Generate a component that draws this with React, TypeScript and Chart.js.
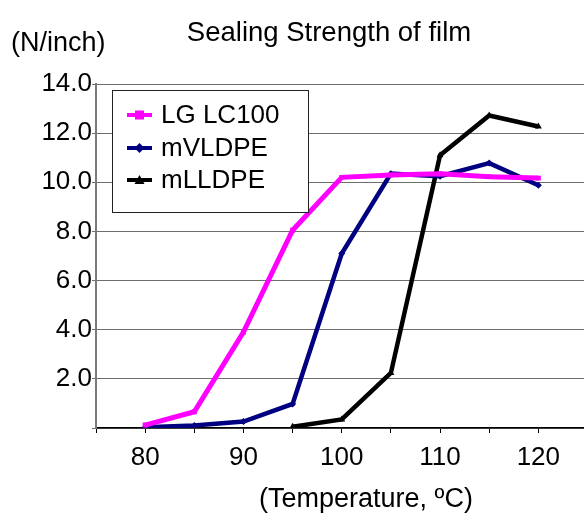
import React, { useEffect, useRef } from 'react';
import { Chart, registerables } from 'chart.js';

Chart.register(...registerables);

const chartTitle = 'Sealing Strength of film';
const yUnitLabel = '(N/inch)';
const xAxisLabel = '(Temperature, ºC)';

const seriesNames = ['LG LC100', 'mVLDPE', 'mLLDPE'];
const seriesColors = ['#FF00FF', '#000080', '#000000'];
const seriesMarkers = ['rect', 'rectRot', 'triangle'];

const tempsLG = [80, 85, 90, 95, 100, 105, 110, 115, 120];
const valuesLG = [0.12, 0.66, 3.9, 8.05, 10.2, 10.3, 10.35, 10.23, 10.17];

const tempsVL = [80, 85, 90, 95, 100, 105, 110, 115, 120];
const valuesVL = [0.03, 0.1, 0.26, 0.98, 7.1, 10.35, 10.25, 10.78, 9.88];

const tempsLL = [95, 100, 105, 110, 115, 120];
const valuesLL = [0.05, 0.35, 2.24, 11.1, 12.72, 12.27];

const xMin = 75;
const xMax = 125;
const xStep = 5;
const xLabelStep = 10;
const yMin = 0;
const yMax = 14;
const yStep = 2;

const FONT = '"Liberation Sans", Arial, sans-serif';

const textPlugin = {
  id: 'customText',
  afterDraw(chart: any) {
    const ctx = chart.ctx;
    ctx.save();
    ctx.fillStyle = '#000';
    ctx.textBaseline = 'alphabetic';
    // Title
    ctx.font = `27.5px ${FONT}`;
    ctx.textAlign = 'center';
    ctx.fillText(chartTitle, 329, 41);
    // Y unit
    ctx.font = `27px ${FONT}`;
    ctx.textAlign = 'left';
    ctx.fillText(yUnitLabel, 11, 51);
    // X title
    ctx.textAlign = 'center';
    ctx.fillText(xAxisLabel, 366, 507);

    // Legend
    const bx = 112, by = 90, bw = 196, bh = 122;
    ctx.fillStyle = '#fff';
    ctx.fillRect(bx, by, bw, bh);
    ctx.strokeStyle = '#222';
    ctx.lineWidth = 1;
    ctx.strokeRect(bx + 0.5, by + 0.5, bw, bh);
    const rows = [115, 148, 180];
    chart.data.datasets.forEach((ds: any, i: number) => {
      const y = rows[i];
      ctx.strokeStyle = ds.borderColor;
      ctx.lineWidth = 4;
      ctx.beginPath();
      ctx.moveTo(127, y);
      ctx.lineTo(152, y);
      ctx.stroke();
      ctx.fillStyle = ds.borderColor;
      const m = ds.pointStyle;
      ctx.beginPath();
      if (m === 'rect') {
        ctx.rect(135, y - 4.5, 9, 9);
      } else if (m === 'rectRot') {
        ctx.moveTo(139.5, y - 5);
        ctx.lineTo(144.5, y);
        ctx.lineTo(139.5, y + 5);
        ctx.lineTo(134.5, y);
        ctx.closePath();
      } else {
        ctx.moveTo(139.5, y - 5);
        ctx.lineTo(144.5, y + 4);
        ctx.lineTo(134.5, y + 4);
        ctx.closePath();
      }
      ctx.fill();
      ctx.fillStyle = '#000';
      ctx.font = `26px ${FONT}`;
      ctx.textAlign = 'left';
      ctx.textBaseline = 'middle';
      ctx.fillText(ds.label, 161, y + 1);
    });
    ctx.restore();
  },
};

function toPoints(xs: number[], ys: number[]) {
  return xs.map((x, i) => ({ x, y: ys[i] }));
}

export default function App() {
  const ref = useRef<HTMLCanvasElement | null>(null);

  useEffect(() => {
    if (!ref.current) return;
    const seriesData = [
      toPoints(tempsLG, valuesLG),
      toPoints(tempsVL, valuesVL),
      toPoints(tempsLL, valuesLL),
    ];
    const chart = new Chart(ref.current, {
      type: 'line',
      data: {
        datasets: seriesNames.map((name, i) => ({
          label: name,
          data: seriesData[i],
          borderColor: seriesColors[i],
          backgroundColor: seriesColors[i],
          borderWidth: i === 0 ? 5 : 4.5,
          pointStyle: seriesMarkers[i] as any,
          pointRadius: i === 2 ? 4 : 3.5,
          pointBorderWidth: 0,
          tension: 0,
          fill: false,
        })),
      },
      options: {
        animation: false,
        responsive: false,
        devicePixelRatio: 1,
        layout: { padding: { top: 84, left: 0, right: 12.5, bottom: 0 } },
        plugins: {
          legend: { display: false },
          title: { display: false },
          tooltip: { enabled: false },
        },
        scales: {
          x: {
            type: 'linear',
            min: xMin,
            max: xMax,
            afterFit(scale: any) {
              scale.height = 86;
              scale.paddingRight = 0;
              scale.paddingLeft = 0;
            },
            ticks: {
              stepSize: xStep,
              autoSkip: false,
              maxRotation: 0,
              padding: 9,
              color: '#000',
              font: { family: FONT, size: 26 },
              callback: (v: any) => (Number(v) % xLabelStep === 0 && Number(v) !== xMin && Number(v) !== xMax ? String(v) : ''),
            },
            grid: {
              drawOnChartArea: false,
              drawTicks: true,
              tickLength: 5,
              color: '#000',
              lineWidth: 1,
            },
            border: { display: true, color: '#000', width: 1.5 },
          },
          y: {
            type: 'linear',
            min: yMin,
            max: yMax,
            afterFit(scale: any) {
              scale.width = 96;
            },
            ticks: {
              stepSize: yStep,
              padding: 0,
              color: '#000',
              font: { family: FONT, size: 26 },
              callback: (v: any) => (Number(v) === 0 ? '' : Number(v).toFixed(1)),
            },
            grid: {
              drawOnChartArea: true,
              drawTicks: true,
              tickLength: 4,
              color: '#6e6e6e',
              lineWidth: 1,
            },
            border: { display: true, color: '#7a7a7a', width: 2 },
          },
        },
      },
      plugins: [textPlugin],
    } as any);
    return () => chart.destroy();
  }, []);

  return (
    <div style={{ position: 'absolute', left: 0, top: 0, width: 584, height: 514, background: '#fff', overflow: 'hidden' }}>
      <canvas ref={ref} width={600} height={514} style={{ width: 600, height: 514, display: 'block' }} />
    </div>
  );
}
